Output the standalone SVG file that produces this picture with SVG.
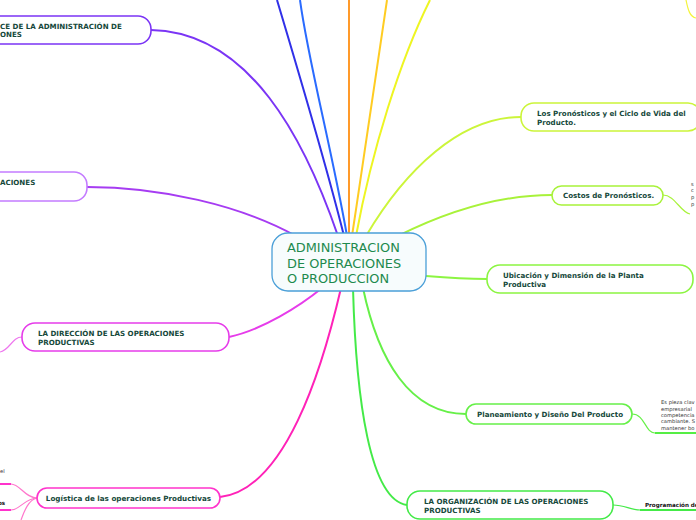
<svg xmlns="http://www.w3.org/2000/svg" width="696" height="520" viewBox="0 0 696 520">
<style>
.lbl{font-family:"DejaVu Sans",Verdana,sans-serif;font-weight:bold;font-size:7.1px;fill:#15483a}
.lbl2{font-family:"DejaVu Sans",Verdana,sans-serif;font-weight:bold;font-size:7.2px;fill:#15483a}
.small{font-family:"DejaVu Sans",Verdana,sans-serif;font-size:5.2px;fill:#333}
.smallb{font-family:"DejaVu Sans",Verdana,sans-serif;font-weight:bold;font-size:5.6px;fill:#111}
.box{fill:#fff;stroke-width:1.6}
.c{fill:none;stroke-width:2}
.cs{fill:none;stroke-width:1.2}
</style>
<rect width="696" height="520" fill="#fff"/>
<g id="connectors">
  <path class="c" stroke="#7b35f5" d="M151,30 C250,32 305,140 338,236"/>
  <path class="c" stroke="#a63cf2" d="M87,187 C160,187 240,205 296,236"/>
  <path class="c" stroke="#3030e8" d="M277,0 C295,60 325,160 344,236"/>
  <path class="c" stroke="#2a6bff" d="M300,0 C308,60 332,150 347,236"/>
  <path class="c" stroke="#ff9a2a" d="M349,0 L349,236"/>
  <path class="c" stroke="#ffcc22" d="M387,0 C378,60 365,150 352,236"/>
  <path class="c" stroke="#eef522" d="M430,0 C400,60 372,150 356,236"/>
  <path class="cs" stroke="#f4f43a" d="M686,0 C688,10 690,17 696,18"/>
  <path class="c" stroke="#ccf53a" d="M521,117 C460,117 405,170 366,236"/>
  <path class="c" stroke="#a8f23a" d="M552,195 C500,195 450,210 398,236"/>
  <path class="c" stroke="#8cf542" d="M426,276 C450,278 470,279 487,279"/>
  <path class="c" stroke="#66f048" d="M466,414 C410,414 378,360 363,288"/>
  <path class="c" stroke="#44ea48" d="M407,505 C370,500 356,400 353,288"/>
  <path class="c" stroke="#ff22b8" d="M220,497 C285,490 322,370 341,288"/>
  <path class="c" stroke="#e63cea" d="M229,337 C262,330 300,306 322,288"/>
  <path class="cs" stroke="#ee77ee" d="M22,337 C12,337 10,350 0,352"/>
  <path class="cs" stroke="#ff77cc" d="M37,498 C25,498 20,484 11,484"/>
  <path class="cs" stroke="#ff77cc" d="M37,498 C25,498 20,510 11,510"/>
  <path class="cs" stroke="#ff77cc" d="M37,498 C28,500 24,512 21,520"/>
  <path class="c" stroke="#ff33cc" d="M-5,484 L11,484"/>
  <path class="c" stroke="#ff33cc" d="M-5,510 L11,510"/>
  <path class="cs" stroke="#a8f23a" d="M663,195 C675,195 680,212 690,214"/>
  <path class="cs" stroke="#66f048" d="M632,414 C645,414 645,433 655,433"/>
  <path class="c" stroke="#55ee44" d="M655,433 L700,433"/>
  <path class="cs" stroke="#44ea48" d="M613,505 C625,505 630,510 640,510"/>
  <path class="c" stroke="#44ea48" d="M640,510 L700,510"/>
</g>
<g id="center">
  <rect x="272" y="233" width="154" height="58" rx="16" fill="#f7fcfd" stroke="#4a9fd8" stroke-width="1.3"/>
  <text font-family="'DejaVu Sans',Verdana,sans-serif" font-size="12.9" fill="#1e8a4e"><tspan x="287" y="252">ADMINISTRACION</tspan><tspan x="287" y="268">DE OPERACIONES</tspan><tspan x="287" y="283">O PRODUCCION</tspan></text>
</g>
<g id="n-alcance">
  <rect class="box" x="-60" y="16" width="211" height="28" rx="13" stroke="#7b35f5"/>
  <text class="lbl"><tspan x="0" y="29">CE DE LA ADMINISTRACIÓN DE</tspan><tspan x="0" y="37">ONES</tspan></text>
</g>
<g id="n-aciones">
  <rect class="box" x="-60" y="172" width="147" height="29" rx="13" stroke="#c47cff" stroke-width="2"/>
  <text class="lbl" x="0" y="185">ACIONES</text>
</g>
<g id="n-direccion">
  <rect class="box" x="22" y="323" width="207" height="28" rx="13" stroke="#e63cea"/>
  <text class="lbl"><tspan x="38" y="336">LA DIRECCIÓN DE LAS OPERACIONES</tspan><tspan x="38" y="345">PRODUCTIVAS</tspan></text>
</g>
<g id="n-logistica">
  <rect class="box" x="37" y="488" width="183" height="20" rx="10" stroke="#ff33cc"/>
  <text class="lbl2" x="128.5" y="501" text-anchor="middle">Logística de las operaciones Productivas</text>
</g>
<g id="n-log-child1">
  <text class="small" x="0" y="473">el</text>
</g>
<g id="n-log-child2">
  <text class="smallb" x="-2" y="505">os</text>
</g>
<g id="n-pronosticos">
  <rect class="box" x="521" y="103" width="180" height="28" rx="13" stroke="#ccf53a"/>
  <text class="lbl"><tspan x="537" y="116">Los Pronósticos y el Ciclo de Vida del</tspan><tspan x="537" y="125">Producto.</tspan></text>
</g>
<g id="n-costos">
  <rect class="box" x="552" y="186" width="111" height="19" rx="9.5" stroke="#a8f23a"/>
  <text class="lbl" x="563" y="198">Costos de Pronósticos.</text>
</g>
<g id="n-costos-child">
  <text class="small"><tspan x="691" y="186">s</tspan><tspan x="691" y="192">c</tspan><tspan x="691" y="199">p</tspan><tspan x="691" y="206">p</tspan></text>
</g>
<g id="n-ubicacion">
  <rect class="box" x="487" y="265" width="206" height="28" rx="13" stroke="#8cf542"/>
  <text class="lbl"><tspan x="503" y="278">Ubicación y Dimensión de la Planta</tspan><tspan x="503" y="287">Productiva</tspan></text>
</g>
<g id="n-planeamiento">
  <rect class="box" x="466" y="404" width="166" height="20" rx="10" stroke="#66f048"/>
  <text class="lbl" x="477" y="417">Planeamiento y Diseño Del Producto</text>
</g>
<g id="n-plan-child">
  <text class="small"><tspan x="661" y="404">Es pieza clav</tspan><tspan x="661" y="410.5">empresarial</tspan><tspan x="661" y="417">competencia</tspan><tspan x="661" y="423">cambiante. S</tspan><tspan x="661" y="429.5">mantener bo</tspan></text>
</g>
<g id="n-organizacion">
  <rect class="box" x="407" y="491" width="206" height="28" rx="13" stroke="#44ea48"/>
  <text class="lbl"><tspan x="424" y="504">LA ORGANIZACIÓN DE LAS OPERACIONES</tspan><tspan x="424" y="513">PRODUCTIVAS</tspan></text>
</g>
<g id="n-org-child">
  <text class="smallb" x="645" y="507">Programación de</text>
</g>
</svg>
